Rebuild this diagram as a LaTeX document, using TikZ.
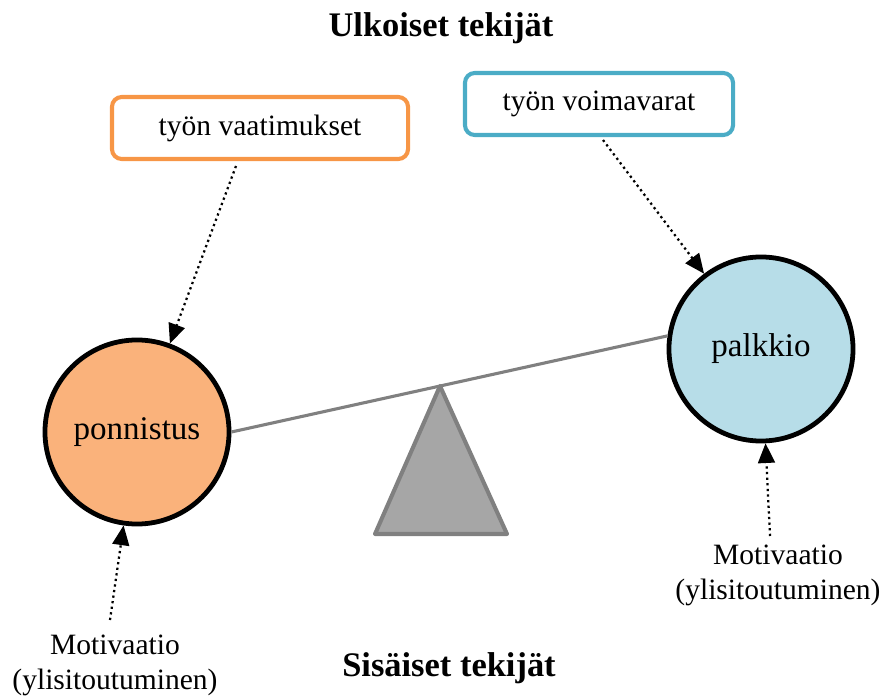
\documentclass[tikz,border=0pt]{standalone}
\usepackage{fontspec}
\setmainfont{Liberation Serif}
\usetikzlibrary{arrows.meta,positioning}
\definecolor{boxorange}{HTML}{F79646}
\definecolor{boxblue}{HTML}{4BACC6}
\definecolor{fillorange}{HTML}{FAB27B}
\definecolor{fillblue}{HTML}{B7DDE8}

\begin{document}
\begin{tikzpicture}[x=0.025cm,y=-0.025cm,
  box node/.style={draw,rounded corners=7pt,line width=2.9pt,minimum width=7.4cm,minimum height=1.55cm,font=\fontsize{21}{24}\selectfont},
  main node/.style={circle,draw,line width=3.4pt,minimum size=4.6cm,font=\fontsize{23.5}{26}\selectfont},
  dot arrow/.style={-{Triangle[length=14pt,width=12pt]},dash pattern=on 1.6pt off 2.4pt,line width=1.6pt},
  small text/.style={align=center,font=\fontsize{21}{25}\selectfont}]

  \useasboundingbox (0,0) rectangle (882,696);

  \node[font=\bfseries\fontsize{24.5}{28}\selectfont] (ulko) at (441,28) {Ulkoiset tekijät};
  \node[font=\bfseries\fontsize{24.5}{28}\selectfont] (sisa) at (449,668) {Sisäiset tekijät};

  \node[box node, draw=boxorange] (vaat) at (260,128) {työn vaatimukset};
  \node[box node, draw=boxblue, minimum width=6.7cm] (voima) at (599,104) {työn voimavarat};

  \node[main node, fill=fillorange] (ponn) at (137,432) {ponnistus};
  \node[main node, fill=fillblue] (palk) at (761,349) {palkkio};

  % vaaka
  \draw[line width=2.2pt, color=black!50] (ponn.east) -- (palk.172);
  \draw[line width=2.9pt, color=black!50, fill=black!35, line join=round] (440,386) -- (507,534) -- (375,534) -- cycle;

  \node[small text] (mot1) at (115,665) {Motivaatio\\(ylisitoutuminen)};
  \node[small text] (mot2) at (778,575) {Motivaatio\\(ylisitoutuminen)};

  \coordinate (a1) at (236,166);
  \coordinate (a2) at (603,140);
  \coordinate (a3) at (110,620);
  \coordinate (a4) at (770,536);

  \draw[dot arrow] (a1) -- (ponn);
  \draw[dot arrow] (a2) -- (palk);
  \draw[dot arrow] (a3) -- (ponn);
  \draw[dot arrow] (a4) -- (palk);
\end{tikzpicture}
\end{document}
